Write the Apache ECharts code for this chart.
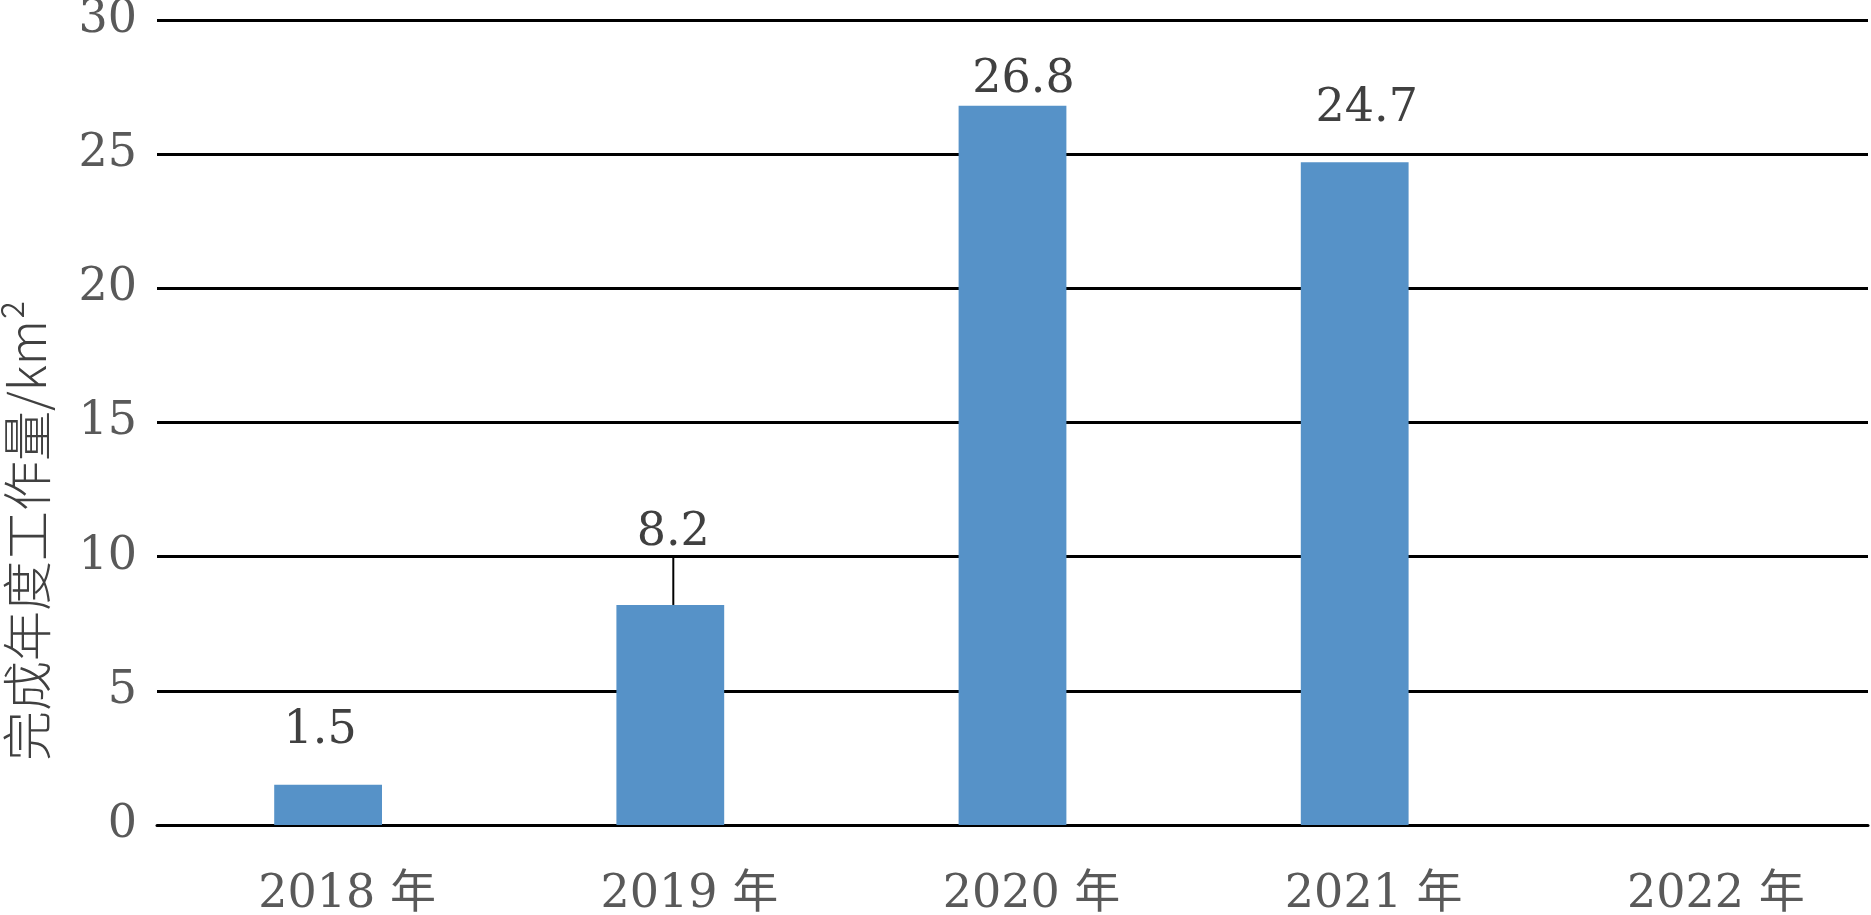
<!DOCTYPE html>
<html>
<head>
<meta charset="utf-8">
<script src="https://cdn.jsdelivr.net/npm/echarts@6/dist/echarts.min.js"></script>
<style>
html,body{margin:0;padding:0;background:#fff;}
#chart{width:1871px;height:915px;}
</style>
</head>
<body>
<div id="chart"></div>
<script>
const categories = ['2018 年', '2019 年', '2020 年', '2021 年', '2022 年'];
const values = [1.5, 8.2, 26.8, 24.7, null];
const yTicks = { min: 0, max: 30, interval: 5 };
const yName = '完成年度工作量/km²';

// label nudges (style only)
const labelShift = [[-8, -26], [3, -44], [11, 2], [12, -25], [0, 0]];

const chart = echarts.init(document.getElementById('chart'), null, { renderer: 'canvas' });
const serif = 'DejaVu Serif, "Noto Sans CJK SC", serif';

chart.setOption({
  backgroundColor: '#ffffff',
  animation: false,
  grid: { left: 157, right: 3, top: 20, bottom: 90, containLabel: false, outerBoundsMode: 'none' },
  xAxis: {
    type: 'category',
    data: categories,
    axisLine: { show: true, lineStyle: { color: '#000', width: 3 } },
    axisTick: { show: false },
    axisLabel: { color: '#595959', fontFamily: serif, fontSize: 46, margin: 47, padding: [0, 0, 0, 38] }
  },
  yAxis: {
    type: 'value',
    min: yTicks.min, max: yTicks.max, interval: yTicks.interval,
    name: yName,
    nameLocation: 'middle',
    nameGap: 105,
    nameTextStyle: { color: '#404040', fontFamily: '"Noto Sans CJK SC", serif', fontWeight: 300, fontSize: 50, padding: [0, 216, 0, 0] },
    axisLine: { show: false },
    axisTick: { show: false },
    splitLine: { lineStyle: { color: '#000', width: 3 } },
    axisLabel: { color: '#595959', fontFamily: serif, fontSize: 46, margin: 20 }
  },
  series: [{
    type: 'bar',
    barWidth: '31.5%',
    data: values.map((v, i) => i === 1 ? { value: v, labelLine: { show: true, lineStyle: { color: '#000', width: 2 } } } : v),
    itemStyle: { color: '#5692c8' },
    label: {
      show: true, position: 'top', distance: 5,
      color: '#404040', fontFamily: serif, fontSize: 46
    },
    labelLine: { show: false },
    labelLayout: function (p) {
      const s = labelShift[p.dataIndex] || [0, 0];
      return { dx: s[0], dy: s[1] };
    }
  }]
});
</script>
</body>
</html>
